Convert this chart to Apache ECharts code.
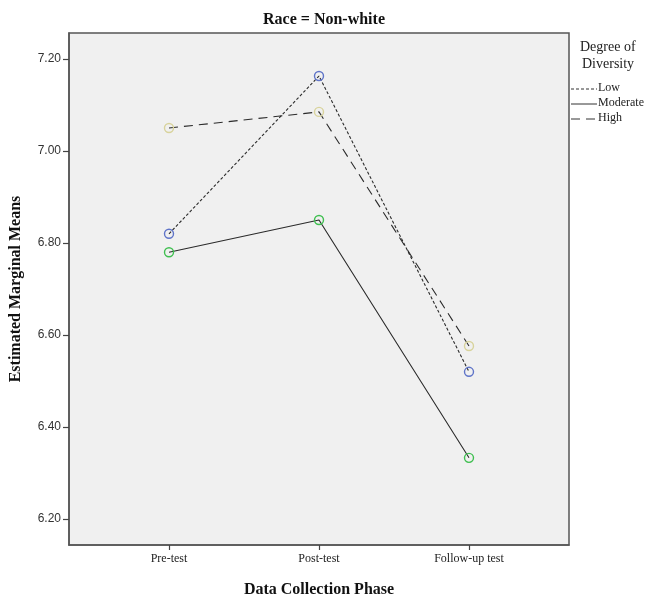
<!DOCTYPE html>
<html>
<head>
<meta charset="utf-8">
<script src="https://cdn.jsdelivr.net/npm/echarts@6/dist/echarts.min.js"></script>
<style>
  html, body { margin: 0; padding: 0; background: #fff; }
  #chartBox { width: 656px; height: 599px; }
</style>
</head>
<body>
<div id="chartBox"></div>
<script>
// categories (x axis) and the y tick labels
var phases = ["Pre-test", "Post-test", "Follow-up test"];
var yTicks = [6.2, 6.4, 6.6, 6.8, 7.0, 7.2];

// estimated marginal means per degree of diversity
var lowVals = [6.82, 7.163, 6.52];
var moderateVals = [6.78, 6.85, 6.333];
var highVals = [7.05, 7.085, 6.576];

function toPoints(vals) {
  return vals.map(function (v, i) { return [i, v]; });
}

var serif = "Liberation Serif";

function lineSeries(name, vals, dash, markerColor) {
  return {
    name: name,
    type: "line",
    data: toPoints(vals),
    symbol: "circle",
    symbolSize: 9,
    showSymbol: true,
    itemStyle: {
      color: "rgba(0,0,0,0)",
      borderColor: markerColor,
      borderWidth: 1.4
    },
    lineStyle: {
      color: "#2a2a2a",
      width: 1.1,
      type: dash
    },
    emphasis: { disabled: true },
    z: 3
  };
}

var chart = echarts.init(document.getElementById("chartBox"));
var option = {
  animation: false,
  title: {
    text: "Race = Non-white",
    left: 319,
    textAlign: "center",
    top: 7,
    textStyle: { fontFamily: serif, fontWeight: "bold", fontSize: 16, color: "#111" }
  },
  grid: {
    left: 69,
    top: 33,
    width: 500,
    height: 512,
    show: true,
    backgroundColor: "#f0f0f0",
    borderColor: "#555",
    borderWidth: 1.5,
    containLabel: false,
    outerBoundsMode: "none"
  },
  xAxis: {
    type: "value",
    min: -0.6667,
    max: 2.6667,
    name: "Data Collection Phase",
    nameLocation: "middle",
    nameGap: 37,
    nameTextStyle: { fontFamily: serif, fontWeight: "bold", fontSize: 16, color: "#111" },
    splitLine: { show: false },
    axisLine: { show: true, onZero: false, lineStyle: { color: "#555", width: 1.5 } },
    axisTick: { show: true, length: 5, lineStyle: { color: "#444", width: 1.2 }, customValues: [0, 1, 2] },
    axisLabel: {
      customValues: [0, 1, 2],
      margin: 8,
      fontFamily: serif,
      fontSize: 12,
      color: "#222",
      formatter: function (v) { return phases[Math.round(v)]; }
    }
  },
  yAxis: {
    type: "value",
    min: 6.1435,
    max: 7.2565,
    name: "Estimated Marginal Means",
    nameLocation: "middle",
    nameGap: 45,
    nameRotate: 90,
    nameTextStyle: { fontFamily: serif, fontWeight: "bold", fontSize: 16, color: "#111" },
    splitLine: { show: false },
    axisLine: { show: true, onZero: false, lineStyle: { color: "#555", width: 1.5 } },
    axisTick: { show: true, length: 6, lineStyle: { color: "#444", width: 1.2 }, customValues: yTicks },
    axisLabel: {
      customValues: yTicks,
      margin: 8,
      fontFamily: "Liberation Sans",
      fontSize: 12,
      color: "#333",
      formatter: function (v) { return v.toFixed(2); }
    }
  },
  series: [
    lineSeries("Low", lowVals, [3, 2], "#5f74c8"),
    lineSeries("Moderate", moderateVals, "solid", "#3fbf50"),
    lineSeries("High", highVals, [9, 6], "#d8d39c")
  ],
  graphic: [
    { type: "text", left: 580, top: 40, style: { text: "Degree of", font: "14px " + serif, fill: "#222" } },
    { type: "text", left: 582, top: 57, style: { text: "Diversity", font: "14px " + serif, fill: "#222" } },
    { type: "line", shape: { x1: 571, y1: 89, x2: 597, y2: 89 }, style: { stroke: "#333", lineWidth: 1, lineDash: [3, 2] } },
    { type: "text", left: 598, top: 82, style: { text: "Low", font: "12px " + serif, fill: "#222" } },
    { type: "line", shape: { x1: 571, y1: 104, x2: 597, y2: 104 }, style: { stroke: "#333", lineWidth: 1 } },
    { type: "text", left: 598, top: 97, style: { text: "Moderate", font: "12px " + serif, fill: "#222" } },
    { type: "line", shape: { x1: 571, y1: 119, x2: 597, y2: 119 }, style: { stroke: "#333", lineWidth: 1, lineDash: [9, 6] } },
    { type: "text", left: 598, top: 112, style: { text: "High", font: "12px " + serif, fill: "#222" } }
  ]
};
chart.setOption(option);
</script>
</body>
</html>
